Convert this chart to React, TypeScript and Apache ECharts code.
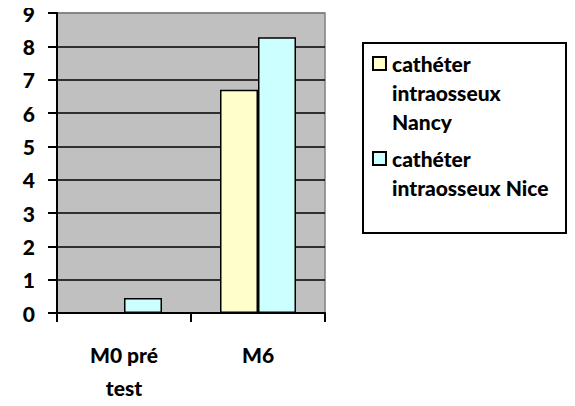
import React, { useEffect, useRef } from "react";
import * as echarts from "echarts";

const categories = ["M0 pré\ntest", "M6"];
const seriesNames = ["cathéter intraosseux Nancy", "cathéter intraosseux Nice"];
const legendLabels = ["cathéter\nintraosseux\nNancy", "cathéter\nintraosseux Nice"];
const nancyValues = [0, 6.7];
const niceValues = [0.45, 8.27];
const colors = ["#ffffcc", "#ccffff"];
const yTicks = [0, 1, 2, 3, 4, 5, 6, 7, 8, 9];

const FONT = "Lato, 'Open Sans', sans-serif";

export default function App() {
  const ref = useRef<HTMLDivElement>(null);
  useEffect(() => {
    if (!ref.current) return;
    const chart = echarts.init(ref.current, undefined, { renderer: "svg" });
    const splitColors = yTicks.map((t, i) => (i === yTicks.length - 1 ? "#808080" : "#000000"));
    chart.setOption({
      animation: false,
      backgroundColor: "#ffffff",
      textStyle: { fontFamily: FONT },
      grid: {
        left: 57,
        right: 250,
        top: 13,
        bottom: 93,
        show: true,
        backgroundColor: "#c0c0c0",
        borderColor: "#808080",
        borderWidth: 1.5,
      },
      xAxis: {
        type: "category",
        data: categories,
        axisLine: { show: true, lineStyle: { color: "#000", width: 2 } },
        axisTick: { show: true, length: 9, lineStyle: { color: "#000", width: 2 } },
        axisLabel: {
          color: "#000",
          fontWeight: 900,
          fontSize: 21,
          lineHeight: 33,
          margin: 25,
          fontFamily: FONT,
        },
      },
      yAxis: {
        type: "value",
        min: 0,
        max: 9,
        interval: 1,
        axisLine: { show: true, lineStyle: { color: "#000", width: 2 } },
        axisTick: { show: true, length: 9, lineStyle: { color: "#000", width: 2 } },
        axisLabel: {
          color: "#000",
          fontWeight: 900,
          fontSize: 21,
          margin: 22,
          fontFamily: FONT,
        },
        splitLine: { show: true, lineStyle: { color: splitColors, width: 1.5 } },
      },
      series: [
        {
          name: seriesNames[0],
          type: "bar",
          data: nancyValues,
          barWidth: 38,
          barGap: "0%",
          itemStyle: { color: colors[0], borderColor: "#000", borderWidth: 1.5 },
        },
        {
          name: seriesNames[1],
          type: "bar",
          data: niceValues,
          barWidth: 38,
          barGap: "0%",
          itemStyle: { color: colors[1], borderColor: "#000", borderWidth: 1.5 },
        },
      ],
      graphic: [
        {
          type: "rect",
          shape: { x: 363, y: 43, width: 203, height: 190 },
          style: { fill: "#fff", stroke: "#000", lineWidth: 2 },
        },
        {
          type: "rect",
          shape: { x: 373, y: 57, width: 13, height: 13 },
          style: { fill: colors[0], stroke: "#000", lineWidth: 2 },
        },
        {
          type: "text",
          x: 392,
          y: 49,
          style: {
            text: legendLabels[0],
            font: `900 21px ${FONT}`,
            lineHeight: 29,
            fill: "#000",
          },
        },
        {
          type: "rect",
          shape: { x: 373, y: 152, width: 13, height: 13 },
          style: { fill: colors[1], stroke: "#000", lineWidth: 2 },
        },
        {
          type: "text",
          x: 392,
          y: 144,
          style: {
            text: legendLabels[1],
            font: `900 21px ${FONT}`,
            lineHeight: 29,
            fill: "#000",
          },
        },
      ],
    });
    return () => chart.dispose();
  }, []);
  return <div ref={ref} style={{ width: 575, height: 406, margin: -8 }} />;
}
